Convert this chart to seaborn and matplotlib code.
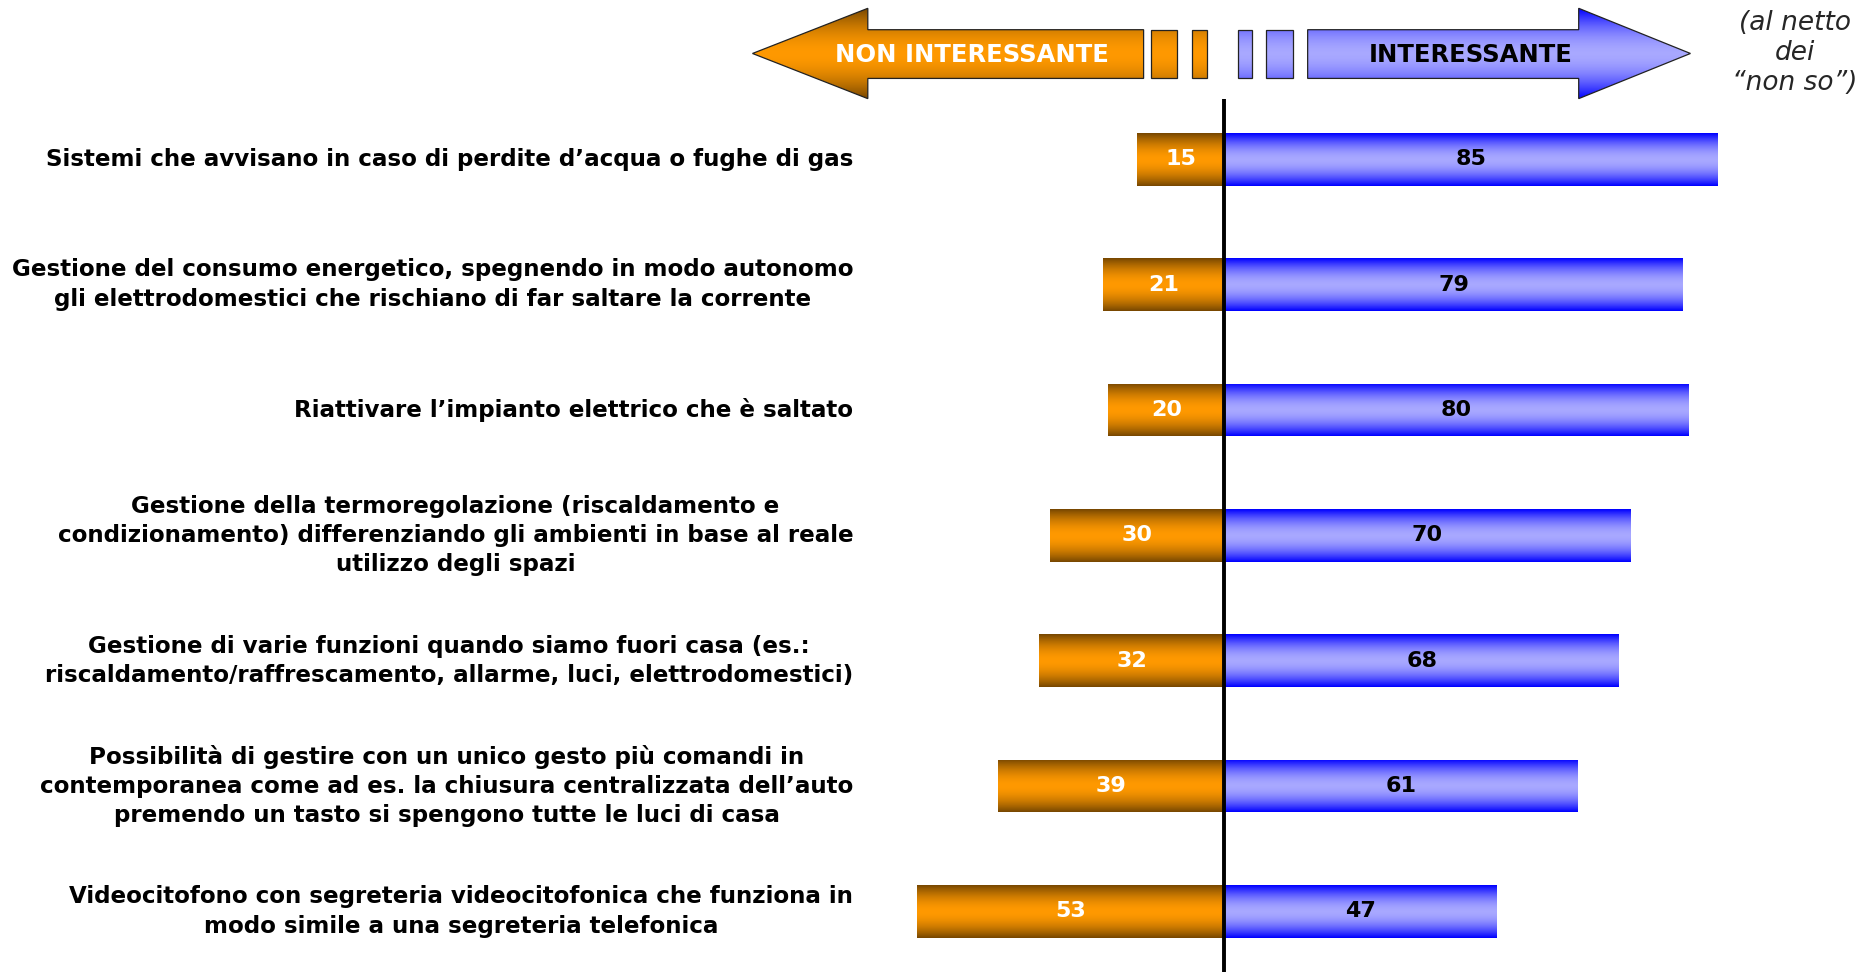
import numpy as np
import pandas as pd
import matplotlib
matplotlib.use("Agg")
import matplotlib.pyplot as plt
from matplotlib.patches import Polygon
import seaborn as sns

# data
items = [
    "Sistemi che avvisano in caso di perdite d’acqua o fughe di gas",
    "Gestione del consumo energetico, spegnendo in modo autonomo\ngli elettrodomestici che rischiano di far saltare la corrente",
    "Riattivare l’impianto elettrico che è saltato",
    "Gestione della termoregolazione (riscaldamento e\ncondizionamento) differenziando gli ambienti in base al reale\nutilizzo degli spazi",
    "Gestione di varie funzioni quando siamo fuori casa (es.:\nriscaldamento/raffrescamento, allarme, luci, elettrodomestici)",
    "Possibilità di gestire con un unico gesto più comandi in\ncontemporanea come ad es. la chiusura centralizzata dell’auto\npremendo un tasto si spengono tutte le luci di casa",
    "Videocitofono con segreteria videocitofonica che funziona in\nmodo simile a una segreteria telefonica",
]
non_interessante = [15, 21, 20, 30, 32, 39, 53]
interessante = [85, 79, 80, 70, 68, 61, 47]

ORANGE_C = np.array([1.0, 0.60, 0.0])
ORANGE_E = np.array([0.47, 0.28, 0.0])
BLUE_C = np.array([0.66, 0.66, 1.0])
BLUE_E = np.array([0.0, 0.0, 1.0])


def gradient_cols(edge, center):
    t = np.abs(np.linspace(-1, 1, 80)) ** 1.8
    return center[None, :] * (1 - t[:, None]) + edge[None, :] * t[:, None]


def gradient_fill(ax, patch, edge, center):
    x0, y0 = patch.get_x(), patch.get_y()
    w, h = patch.get_width(), patch.get_height()
    im = ax.imshow(gradient_cols(edge, center)[:, None, :],
                   extent=(x0, x0 + w, y0 + h, y0), aspect="auto",
                   interpolation="bilinear", zorder=2)
    im.set_clip_path(patch)


df = pd.DataFrame({"item": items, "non": [-v for v in non_interessante], "si": interessante})

sns.set_style("white")
plt.rcParams["font.family"] = ["DejaVu Sans"]

fig = plt.figure(figsize=(18.64, 9.72), dpi=100)
ax = fig.add_axes([0, 0, 1, 1])

sns.barplot(data=df, x="non", y="item", order=items, orient="h", color="#FF9900",
            width=0.42, ax=ax, errorbar=None)
n_left = len(ax.patches)
sns.barplot(data=df, x="si", y="item", order=items, orient="h", color="#A0A0FF",
            width=0.42, ax=ax, errorbar=None)

for i, p in enumerate(ax.patches):
    if i < n_left:
        gradient_fill(ax, p, ORANGE_E, ORANGE_C)
    else:
        gradient_fill(ax, p, BLUE_E, BLUE_C)
    p.set_edgecolor("none")

# value labels and item labels
for i, (a, b) in enumerate(zip(non_interessante, interessante)):
    ax.text(-a / 2, i, str(a), ha="center", va="center", color="white",
            fontsize=16, fontweight="bold", zorder=5)
    ax.text(b / 2, i, str(b), ha="center", va="center", color="black",
            fontsize=16, fontweight="bold", zorder=5)
    ax.text(-64, i, items[i], ha="right", va="center", multialignment="center",
            fontsize=16.6, fontweight="bold", color="black", linespacing=1.35)

ax.set_xlim(-211.1, 110.25)
ax.set_ylim(6.483, -1.27)
ax.vlines(0, -0.483, 6.6, color="black", lw=2.8, zorder=6)
ax.axis("off")

# header arrows, drawn in shrunk-pixel space
hdr = fig.add_axes([0, 0, 1, 1], facecolor="none")
hdr.axis("off")


def shape(pts, edge, center):
    poly = Polygon(pts, closed=True, facecolor="none", edgecolor="#222222", lw=0.9, zorder=3)
    hdr.add_patch(poly)
    xs = [q[0] for q in pts]
    im = hdr.imshow(gradient_cols(edge, center)[:, None, :],
                    extent=(min(xs), max(xs), 83, 7), aspect="auto",
                    interpolation="bilinear", zorder=2)
    im.set_clip_path(poly)


shape([(633, 45), (730, 7), (730, 25), (962, 25), (962, 66), (730, 66), (730, 83)],
      ORANGE_E, ORANGE_C)
shape([(968, 25), (990, 25), (990, 66), (968, 66)], ORANGE_E, ORANGE_C)
shape([(1003, 25), (1015, 25), (1015, 66), (1003, 66)], ORANGE_E, ORANGE_C)
shape([(1041, 25), (1053, 25), (1053, 66), (1041, 66)], BLUE_E, BLUE_C)
shape([(1065, 25), (1088, 25), (1088, 66), (1065, 66)], BLUE_E, BLUE_C)
shape([(1100, 25), (1328, 25), (1328, 7), (1422, 45), (1328, 83), (1328, 66), (1100, 66)],
      BLUE_E, BLUE_C)
hdr.set_xlim(0, 1568)
hdr.set_ylim(818, 0)

hdr.text(818, 46, "NON INTERESSANTE", ha="center", va="center", color="white",
         fontsize=17.5, fontweight="bold", zorder=4)
hdr.text(1237, 46, "INTERESSANTE", ha="center", va="center", color="black",
         fontsize=17.5, fontweight="bold", zorder=4)
hdr.text(1510, 45, "(al netto\ndei\n“non so”)", ha="center", va="center",
         fontsize=19, fontstyle="italic", linespacing=1.2)

fig.savefig("out.png", dpi=100, facecolor="white")
